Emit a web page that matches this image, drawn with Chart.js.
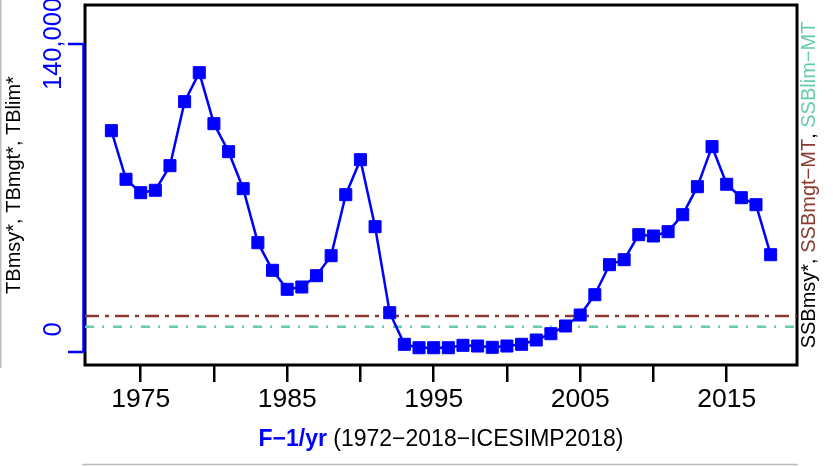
<!DOCTYPE html>
<html>
<head>
<meta charset="utf-8">
<script src="https://cdn.jsdelivr.net/npm/chart.js@4"></script>
<style>
  body { margin: 0; background: #fff; }
  canvas { display: block; }
</style>
</head>
<body>
<canvas id="myChart" width="833" height="466"></canvas>
<script>
// Dataset
const years = [1973, 1974, 1975, 1976, 1977, 1978, 1979, 1980, 1981, 1982,
  1983, 1984, 1985, 1986, 1987, 1988, 1989, 1990, 1991, 1992,
  1993, 1994, 1995, 1996, 1997, 1998, 1999, 2000, 2001, 2002,
  2003, 2004, 2005, 2006, 2007, 2008, 2009, 2010, 2011, 2012,
  2013, 2014, 2015, 2016, 2017, 2018];
const biomass = [97490, 73660, 67090, 68260, 80330, 111710, 125930, 100920, 87190, 69050,
  42570, 29030, 19710, 20840, 26380, 36190, 66110, 83270, 50410, 8240,
  -7260, -8930, -8930, -8930, -7750, -8090, -8730, -8090, -7260, -5150,
  -2060, 1720, 7110, 17070, 31780, 34230, 46490, 45850, 47960, 56300,
  70030, 89650, 71210, 64630, 61200, 36680];
const ssbMgt = 6620;
const ssbLim = 1370;
const xRange = [1971.2, 2019.8];
const yRange = [-17400, 159100];
const xTicks = [1975, 1980, 1985, 1990, 1995, 2000, 2005, 2010, 2015];
const yLabels = [0, 140000];
const yAxisEnds = [-11030, 140000];

const BLUE = "#0000ff";
const BROWN = "#8b3a30";
const TEAL = "#66cdaa";
const FONT = "'Liberation Sans', Arial, sans-serif";

const data = {
  datasets: [
    {
      label: "F-1/yr",
      data: years.map((y, i) => ({ x: y, y: biomass[i] })),
      borderColor: BLUE,
      backgroundColor: BLUE,
      borderWidth: 2.5,
      pointStyle: "rect",
      pointRadius: 8.5,
      pointBorderWidth: 1,
      pointBackgroundColor: BLUE,
      pointBorderColor: BLUE,
      tension: 0,
    },
    {
      label: "SSBmgt-MT",
      data: xRange.map((x) => ({ x: x, y: ssbMgt })),
      borderColor: BROWN,
      borderWidth: 2.5,
      borderDash: [14, 6, 4, 6],
      pointRadius: 0,
    },
    {
      label: "SSBlim-MT",
      data: xRange.map((x) => ({ x: x, y: ssbLim })),
      borderColor: TEAL,
      borderWidth: 2.5,
      borderDash: [9, 8, 2, 9],
      pointRadius: 0,
    },
  ],
};

// Box, blue axis, titles
const decorations = {
  id: "decorations",
  beforeDatasetsDraw(chart) {
    const { ctx, chartArea: a } = chart;
    ctx.save();
    ctx.strokeStyle = "#000";
    ctx.lineWidth = 3;
    ctx.strokeRect(a.left, a.top, a.right - a.left, a.bottom - a.top);
    ctx.restore();
  },
  afterDraw(chart) {
    const { ctx, chartArea: a } = chart;
    const ys = chart.scales.y;
    ctx.save();

    // page edges
    ctx.strokeStyle = "#bbbbbb";
    ctx.lineWidth = 1.5;
    ctx.beginPath();
    ctx.moveTo(0.75, 0);
    ctx.lineTo(0.75, 368);
    ctx.moveTo(82, 464.5);
    ctx.lineTo(798, 464.5);
    ctx.stroke();

    // blue left axis
    const ax = 83.5;
    const y0 = ys.getPixelForValue(yAxisEnds[0]);
    const y1 = ys.getPixelForValue(yAxisEnds[1]);
    ctx.strokeStyle = BLUE;
    ctx.lineWidth = 2.5;
    ctx.beginPath();
    ctx.moveTo(ax, y0);
    ctx.lineTo(ax, y1);
    ctx.moveTo(ax, y0);
    ctx.lineTo(68, y0);
    ctx.moveTo(ax, y1);
    ctx.lineTo(68, y1);
    ctx.stroke();

    ctx.fillStyle = BLUE;
    ctx.font = "25.5px " + FONT;
    ctx.textAlign = "center";
    ctx.textBaseline = "middle";
    yLabels.forEach((v) => {
      ctx.save();
      ctx.translate(53.5, ys.getPixelForValue(v));
      ctx.rotate(-Math.PI / 2);
      ctx.fillText(v.toLocaleString("en-US"), 0, 0);
      ctx.restore();
    });

    // left title
    const cy = (a.top + a.bottom) / 2;
    ctx.fillStyle = "#000";
    ctx.font = "20px " + FONT;
    ctx.save();
    ctx.translate(14.5, cy);
    ctx.rotate(-Math.PI / 2);
    ctx.fillText("TBmsy*, TBmgt*, TBlim*", 0, 0);
    ctx.restore();

    // right title, coloured parts
    const parts = [
      ["SSBmsy*", "#000"],
      [", ", "#000"],
      ["SSBmgt\u2212MT", BROWN],
      [", ", "#000"],
      ["SSBlim\u2212MT", TEAL],
    ];
    ctx.font = "20px " + FONT;
    const w = parts.reduce((s, p) => s + ctx.measureText(p[0]).width, 0);
    ctx.save();
    ctx.translate(809.5, cy);
    ctx.rotate(-Math.PI / 2);
    ctx.textAlign = "left";
    let px = -w / 2;
    parts.forEach((p) => {
      ctx.fillStyle = p[1];
      ctx.fillText(p[0], px, 0);
      px += ctx.measureText(p[0]).width;
    });
    ctx.restore();

    // x title
    const bold = "bold 23px " + FONT;
    const norm = "23px " + FONT;
    const t1 = "F\u22121/yr";
    const t2 = " (1972\u22122018\u2212ICESIMP2018)";
    ctx.font = bold;
    const w1 = ctx.measureText(t1).width;
    ctx.font = norm;
    const w2 = ctx.measureText(t2).width;
    let sx = (a.left + a.right) / 2 - (w1 + w2) / 2;
    ctx.textAlign = "left";
    ctx.font = bold;
    ctx.fillStyle = BLUE;
    ctx.fillText(t1, sx, 440);
    ctx.font = norm;
    ctx.fillStyle = "#000";
    ctx.fillText(t2, sx + w1, 440);

    ctx.restore();
  },
};

// Style Configurations
const config = {
  type: "line",
  data: data,
  options: {
    responsive: false,
    animation: false,
    layout: { autoPadding: false, padding: { left: 85, right: 36, top: 5, bottom: 0 } },
    plugins: {
      legend: { display: false },
      tooltip: { enabled: false },
    },
    scales: {
      x: {
        type: "linear",
        min: xRange[0],
        max: xRange[1],
        afterBuildTicks: (s) => {
          s.ticks = xTicks.map((v) => ({ value: v }));
        },
        afterFit: (s) => {
          s.height = 101;
        },
        border: { display: false },
        grid: {
          drawOnChartArea: false,
          drawTicks: true,
          tickLength: 17,
          tickColor: "#000",
          lineWidth: 2.5,
        },
        ticks: {
          padding: 2,
          maxRotation: 0,
          autoSkip: false,
          color: "#000",
          font: { family: FONT, size: 26.5 },
          callback: (v) => (v % 10 === 5 ? String(v) : ""),
        },
      },
      y: {
        display: false,
        min: yRange[0],
        max: yRange[1],
      },
    },
  },
  plugins: [decorations],
};

// Plotting
let myChart = document.getElementById("myChart").getContext("2d");
let lineChart = new Chart(myChart, config);
</script>
</body>
</html>
